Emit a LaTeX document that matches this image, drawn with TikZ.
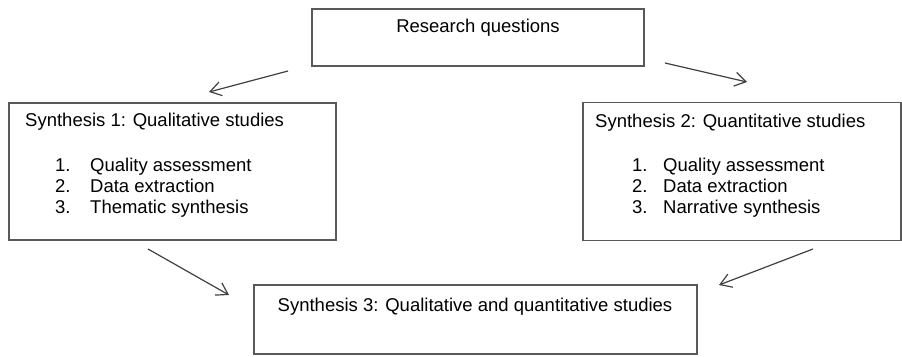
\documentclass[tikz,border=0pt]{standalone}
\usepackage{fontspec}
\setmainfont{Liberation Sans}
\usetikzlibrary{arrows.meta}

\begin{document}
\begin{tikzpicture}
  [x=1pt,y=-1pt,
   box/.style={rectangle,draw=black!65,line width=1.3pt,inner sep=0pt},
   txt/.style={inner sep=0pt,anchor=base west,font=\fontsize{18.5}{22}\selectfont},
   link/.style={draw=black!75,line width=1.2pt,-{Straight Barb[length=11pt,width=14pt]}}]
  \useasboundingbox (0,0) rectangle (902,356);

  \node [box,minimum width=332,minimum height=57] (rq) at (478,37.5) {};
  \node [box,minimum width=327,minimum height=137] (qual) at (172.5,171.5) {};
  \node [box,minimum width=318,minimum height=138] (quant) at (742,171.5) {};
  \node [box,minimum width=443,minimum height=69] (mixed) at (475.5,319.5) {};

  \node [txt,anchor=base] (rqt) at (478,32) {Research questions};
  \node [txt] (qualt) at (25,126) {Synthesis 1: Qualitative studies};
  \node [txt] (quantt) at (595,127) {Synthesis 2: Quantitative studies};
  \node [txt,anchor=base] (mixedt) at (475,311) {Synthesis 3: Qualitative and quantitative studies};

  \foreach \i/\t/\y in {1/Quality assessment/171,2/Data extraction/192,3/Thematic synthesis/213}
  {
    \node [txt] (qualn\i) at (55,\y) {\i.};
    \node [txt] (quali\i) at (90,\y) {\t};
  }
  \foreach \i/\t/\y in {1/Quality assessment/171,2/Data extraction/192,3/Narrative synthesis/213}
  {
    \node [txt] (quantn\i) at (632,\y) {\i.};
    \node [txt] (quanti\i) at (663,\y) {\t};
  }

  \coordinate (a1) at (288,71);
  \coordinate (b1) at (209,92);
  \coordinate (a2) at (665,63);
  \coordinate (b2) at (747,82);
  \coordinate (a3) at (148,249);
  \coordinate (b3) at (229,295);
  \coordinate (a4) at (813,249);
  \coordinate (b4) at (719,285);

  \foreach \from/\to in {a1/b1,a2/b2,a3/b3,a4/b4}
    \draw [link] (\from) -- (\to);

\end{tikzpicture}
\end{document}
